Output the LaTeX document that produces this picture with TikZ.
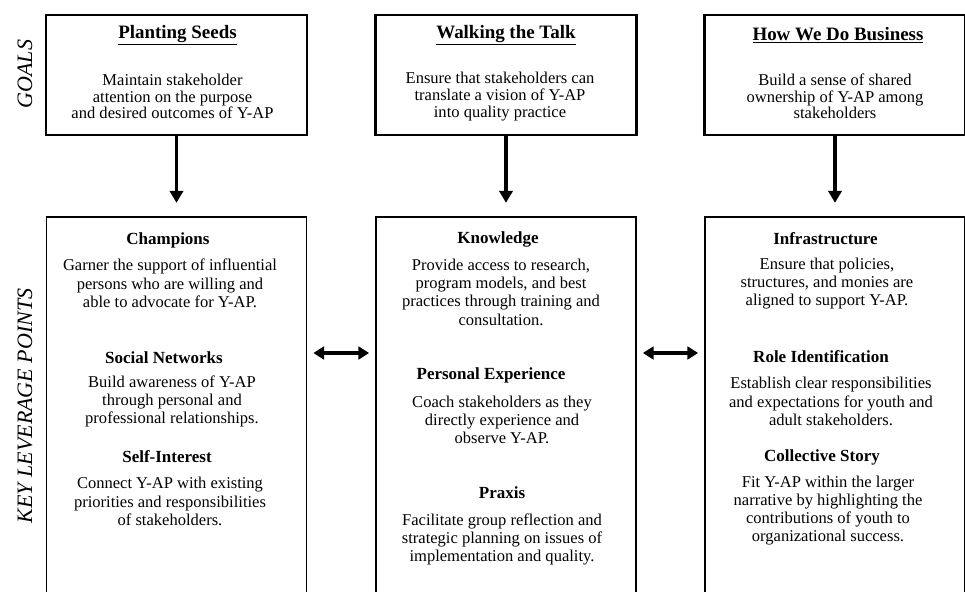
\documentclass[tikz,border=0pt]{standalone}
\usepackage{fontspec}
\setmainfont{Liberation Serif}
\usetikzlibrary{arrows.meta}

\begin{document}
\begin{tikzpicture}[
		x=0.75pt,y=-0.75pt,
		goalbox/.style={
			draw=black,
			line width=1.7pt,
			minimum width=261*0.75pt,
			minimum height=120*0.75pt,
			inner sep=0pt
		},
		keybox/.style={
			draw=black,
			line width=1.3pt,
			minimum width=260*0.75pt,
			minimum height=390*0.75pt,
			inner sep=0pt
		},
		goaltitle/.style={
			font=\fontsize{14.2}{16}\selectfont\bfseries,
			inner sep=0pt
		},
		goaltext/.style={
			font=\fontsize{12.4}{12.5}\selectfont,
			align=center,
			inner sep=0pt
		},
		keyhead/.style={
			font=\fontsize{12.75}{14}\selectfont\bfseries,
			inner sep=0pt
		},
		keytext/.style={
			font=\fontsize{12.4}{13.7}\selectfont,
			align=center,
			inner sep=0pt
		},
		side/.style={
			font=\fontsize{16.5}{18}\selectfont\itshape,
			rotate=90,
			inner sep=0pt
		},
		down/.style={
			-{Triangle[length=9pt,width=10pt]},
			line width=2.3pt,
			shorten >=10pt
		},
		both/.style={
			{Triangle[length=8pt,width=9.5pt]}-{Triangle[length=8pt,width=9.5pt]},
			line width=2.3pt,
			shorten <=4.5pt,
			shorten >=4.5pt
		}
	]
		\useasboundingbox (0,0) rectangle (965,592);
		\clip (0,0) rectangle (965,592);

		% goals row
		\node[goalbox] (g1) at (176.5,75) {};
		\node[goalbox] (g2) at (506,75) {};
		\node[goalbox] (g3) at (835,75) {};

		% key leverage points row, open at the bottom
		\node[keybox] (k1) at (176.5,412) {};
		\node[keybox] (k2) at (506,412) {};
		\node[keybox] (k3) at (835,412) {};

		\coordinate (mid) at (0,353);

		\foreach \a/\b in {g1/k1,g2/k2,g3/k3}
			\draw[down] (\a.south) -- (\b.north);
		\foreach \a/\b in {k1/k2,k2/k3}
			\draw[both] (\a.east |- mid) -- (\b.west |- mid);

		\node[side] (goals) at (25,74) {GOALS};
		\node[side] (klp) at (25,406) {KEY LEVERAGE POINTS};

		\node[goaltitle] (t1) at (177.5,35) {\underline{Planting Seeds}};
		\node[goaltext] (d1) at (172.5,96.5) {Maintain stakeholder\\attention on the purpose\\and desired outcomes of Y-AP};

		\node[goaltitle] (t2) at (506,35) {\underline{Walking the Talk}};
		\node[goaltext] (d2) at (500,96.5) {Ensure that stakeholders can\\translate a vision of Y-AP\\into quality practice};

		\node[goaltitle] (t3) at (838,35) {\underline{How We Do Business}};
		\node[goaltext] (d3) at (835,96.5) {Build a sense of shared\\ownership of Y-AP among\\stakeholders};

		\node[keyhead] (h11) at (168,240) {Champions};
		\node[keytext] (b11) at (170,283.5) {Garner the support of influential\\persons who are willing and\\able to advocate for Y-AP.};
		\node[keyhead] (h12) at (164,358) {Social Networks};
		\node[keytext] (b12) at (172,401.5) {Build awareness of Y-AP\\through personal and\\professional relationships.};
		\node[keyhead] (h13) at (167,457) {Self-Interest};
		\node[keytext] (b13) at (170,501.5) {Connect Y-AP with existing\\priorities and responsibilities\\of stakeholders.};

		\node[keyhead] (h21) at (498,239) {Knowledge};
		\node[keytext] (b21) at (501,292) {Provide access to research,\\program models, and best\\practices through training and\\consultation.};
		\node[keyhead] (h22) at (491,375) {Personal Experience};
		\node[keytext] (b22) at (502,420) {Coach stakeholders as they\\directly experience and\\observe Y-AP.};
		\node[keyhead] (h23) at (502,493) {Praxis};
		\node[keytext] (b23) at (502,539.5) {Facilitate group reflection and\\strategic planning on issues of\\implementation and quality.};

		\node[keyhead] (h31) at (825.5,239) {Infrastructure};
		\node[keytext] (b31) at (827,283.5) {Ensure that policies,\\structures, and monies are\\aligned to support Y-AP.};
		\node[keyhead] (h32) at (821,357) {Role Identification};
		\node[keytext] (b32) at (831,401.5) {Establish clear responsibilities\\and expectations for youth and\\adult stakeholders.};
		\node[keyhead] (h33) at (822,457) {Collective Story};
		\node[keytext] (b33) at (828,510.5) {Fit Y-AP within the larger\\narrative by highlighting the\\contributions of youth to\\organizational success.};
	\end{tikzpicture}
\end{document}
